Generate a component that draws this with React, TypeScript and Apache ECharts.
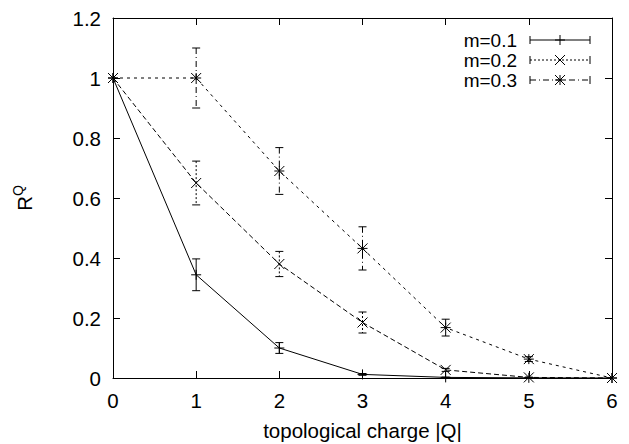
import React, { useEffect, useRef } from "react";
import * as echarts from "echarts";

const charges = [0, 1, 2, 3, 4, 5, 6];
const m01 = [1, 0.344, 0.1, 0.012, 0.002, 0.0005, 0];
const m01Err = [0, 0.053, 0.018, 0.003, 0.001, 0, 0];
const m02 = [1, 0.65, 0.38, 0.185, 0.027, 0.002, 0];
const m02Err = [0, 0.073, 0.042, 0.035, 0.005, 0.001, 0];
const m03 = [1, 1, 0.69, 0.432, 0.168, 0.063, 0];
const m03Err = [0, 0.1, 0.078, 0.072, 0.028, 0.008, 0];
const xTicks = ["0", "1", "2", "3", "4", "5", "6"];
const seriesNames = ["m=0.1", "m=0.2", "m=0.3"];

const FONT = "'Liberation Sans', Arial, Helvetica, sans-serif";
const FS = 20.5;
const LEGEND_FS = 19;

function markerLines(kind: string, cx: number, cy: number) {
  const s = 5;
  const st = { stroke: "#000", lineWidth: 1 };
  const out: any[] = [];
  if (kind === "plus" || kind === "star") {
    out.push({ type: "line", shape: { x1: cx - s, y1: cy, x2: cx + s, y2: cy }, style: st });
    out.push({ type: "line", shape: { x1: cx, y1: cy - s, x2: cx, y2: cy + s }, style: st });
  }
  if (kind === "cross" || kind === "star") {
    out.push({ type: "line", shape: { x1: cx - s, y1: cy - s, x2: cx + s, y2: cy + s }, style: st });
    out.push({ type: "line", shape: { x1: cx - s, y1: cy + s, x2: cx + s, y2: cy - s }, style: st });
  }
  return out;
}

function makeRender(kind: string, errDash: any) {
  return (params: any, api: any) => {
    const x = api.value(0);
    const y = api.value(1);
    const e = api.value(2);
    const c = api.coord([x, y]);
    const children: any[] = [];
    if (e > 0) {
      const t = api.coord([x, y + e]);
      const b = api.coord([x, y - e]);
      const es = { stroke: "#000", lineWidth: 1, lineDash: errDash };
      children.push({ type: "line", shape: { x1: c[0], y1: t[1], x2: c[0], y2: b[1] }, style: es });
      children.push({ type: "line", shape: { x1: c[0] - 4, y1: t[1], x2: c[0] + 4, y2: t[1] }, style: { stroke: "#000", lineWidth: 1 } });
      children.push({ type: "line", shape: { x1: c[0] - 4, y1: b[1], x2: c[0] + 4, y2: b[1] }, style: { stroke: "#000", lineWidth: 1 } });
    }
    markerLines(kind, c[0], c[1]).forEach((m) => children.push(m));
    return { type: "group", children };
  };
}

export default function App() {
  const ref = useRef<HTMLDivElement>(null);
  useEffect(() => {
    if (!ref.current) return;
    const chart = echarts.init(ref.current, null, { renderer: "svg" });
    const pts = (vals: number[]) => charges.map((q, i) => [q, vals[i]]);
    const errPts = (vals: number[], errs: number[]) => charges.map((q, i) => [q, vals[i], errs[i]]);
    const axisCommon = {
      type: "value",
      axisLine: { show: true, onZero: false, lineStyle: { color: "#000", width: 1 } },
      axisTick: { show: true, inside: true, length: 7, lineStyle: { color: "#000", width: 1 } },
      splitLine: { show: false },
    };
    const lineDefs = [
      { name: seriesNames[0], data: m01, err: m01Err, line: "solid", marker: "plus", errDash: null },
      { name: seriesNames[1], data: m02, err: m02Err, line: [5, 3], marker: "cross", errDash: [2, 2] },
      { name: seriesNames[2], data: m03, err: m03Err, line: [3, 4], marker: "star", errDash: [6, 3, 1, 3] },
    ];
    const series: any[] = [];
    lineDefs.forEach((d) => {
      series.push({
        type: "line",
        name: d.name,
        data: pts(d.data),
        symbol: "none",
        lineStyle: { color: "#000", width: 1, type: d.line },
        z: 2,
      });
      series.push({
        type: "custom",
        name: d.name + " err",
        data: errPts(d.data, d.err),
        renderItem: makeRender(d.marker, d.errDash),
        clip: false,
        z: 3,
      });
    });

    // legend drawn as graphic
    const legendY = [40, 60, 80];
    const legendStyles = [
      { dash: null, marker: "plus" },
      { dash: [2, 2], marker: "cross" },
      { dash: [6, 3, 1, 3], marker: "star" },
    ];
    const graphic: any[] = [];
    legendStyles.forEach((ls, i) => {
      const y = legendY[i];
      graphic.push({
        type: "text",
        x: 517,
        y,
        style: {
          text: seriesNames[i],
          fontSize: LEGEND_FS,
          fontFamily: FONT,
          lineHeight: 17,
          fill: "#000",
          align: "right",
          verticalAlign: "middle",
        },
      });
      graphic.push({ type: "line", shape: { x1: 530, y1: y, x2: 590, y2: y }, style: { stroke: "#000", lineWidth: 1, lineDash: ls.dash } });
      graphic.push({ type: "line", shape: { x1: 530, y1: y - 4, x2: 530, y2: y + 4 }, style: { stroke: "#000", lineWidth: 1 } });
      graphic.push({ type: "line", shape: { x1: 590, y1: y - 4, x2: 590, y2: y + 4 }, style: { stroke: "#000", lineWidth: 1 } });
      markerLines(ls.marker, 560, y).forEach((m) => graphic.push(m));
    });

    chart.setOption({
      animation: false,
      backgroundColor: "#fff",
      textStyle: { fontFamily: FONT },
      grid: { left: 113, right: 17, top: 18, bottom: 66, containLabel: false, outerBoundsMode: "none" },
      xAxis: [
        {
          ...axisCommon,
          position: "bottom",
          min: 0,
          max: 6,
          interval: 1,
          axisLabel: {
            color: "#000",
            fontSize: FS,
            fontFamily: FONT,
            margin: 12,
            formatter: (v: number) => xTicks[Math.round(v)] ?? String(v),
          },
          name: "topological charge |Q|",
          nameLocation: "middle",
          nameGap: 42,
          nameTextStyle: { color: "#000", fontSize: FS, fontFamily: FONT },
        },
        {
          ...axisCommon,
          position: "top",
          min: 0,
          max: 6,
          interval: 1,
          axisLabel: { show: false },
        },
      ],
      yAxis: [
        {
          ...axisCommon,
          position: "left",
          min: 0,
          max: 1.2,
          interval: 0.2,
          axisLabel: {
            color: "#000",
            fontSize: FS,
            fontFamily: FONT,
            margin: 12,
            formatter: (v: number) => String(Math.round(v * 10) / 10),
          },
          name: "{r|R}{q|Q}",
          nameLocation: "middle",
          nameGap: 76,
          nameRotate: 90,
          nameTextStyle: {
            color: "#000",
            rich: {
              r: { fontSize: FS, fontFamily: FONT, color: "#000" },
              q: { fontSize: 14, fontFamily: FONT, color: "#000", padding: [0, 0, 12, 0] },
            },
          },
        },
        {
          ...axisCommon,
          position: "right",
          min: 0,
          max: 1.2,
          interval: 0.2,
          axisLabel: { show: false },
        },
      ],
      series,
      graphic,
    });
    return () => chart.dispose();
  }, []);
  return (
    <div
      ref={ref}
      style={{ position: "fixed", left: 0, top: 0, width: 629, height: 444, background: "#fff" }}
    />
  );
}
